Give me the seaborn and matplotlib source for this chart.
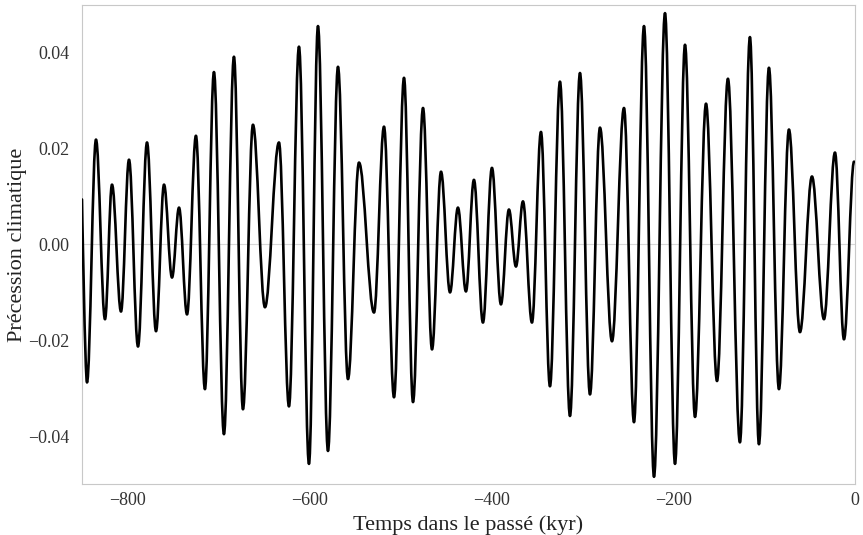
import seaborn as sns
import matplotlib.pyplot as plt
from matplotlib.path import Path
from matplotlib.patches import PathPatch
from matplotlib.ticker import FuncFormatter

# extremums de la courbe (kyr, précession)
temps = [-850.0, -844.5, -834.6, -824.7, -817.0, -807.1, -798.3, -788.4, -778.5, -768.6,
         -759.8, -751.0, -743.3, -734.5, -724.7, -714.8, -704.9, -693.9, -682.9, -673.0,
         -662.0, -648.8, -633.4, -622.4, -611.4, -600.4, -590.5, -579.5, -568.5, -557.5,
         -545.4, -528.9, -517.9, -506.9, -495.9, -486.0, -475.0, -465.1, -455.2, -445.3,
         -436.6, -427.8, -419.0, -409.1, -399.2, -389.3, -380.5, -372.8, -365.1, -355.2,
         -345.3, -335.4, -324.4, -313.4, -302.4, -291.4, -280.4, -267.2, -254.0, -243.0,
         -232.0, -221.0, -208.9, -197.9, -186.9, -175.9, -163.8, -151.7, -139.7, -126.5,
         -115.5, -105.6, -94.6, -83.6, -72.6, -60.5, -47.3, -34.1, -22.0, -12.1, -1.0]
precession = [0.0094, -0.0288, 0.0219, -0.0156, 0.0125, -0.0140, 0.0177, -0.0213, 0.0213, -0.0181,
              0.0125, -0.0069, 0.0077, -0.0146, 0.0227, -0.0302, 0.0360, -0.0396, 0.0392, -0.0344,
              0.0250, -0.0131, 0.0213, -0.0338, 0.0413, -0.0458, 0.0456, -0.0431, 0.0371, -0.0281,
              0.0171, -0.0142, 0.0246, -0.0319, 0.0348, -0.0329, 0.0285, -0.0219, 0.0152, -0.0100,
              0.0077, -0.0098, 0.0135, -0.0163, 0.0160, -0.0125, 0.0073, -0.0046, 0.0090, -0.0163,
              0.0235, -0.0296, 0.0340, -0.0358, 0.0358, -0.0313, 0.0244, -0.0202, 0.0285, -0.0371,
              0.0456, -0.0485, 0.0483, -0.0458, 0.0417, -0.0360, 0.0294, -0.0285, 0.0346, -0.0413,
              0.0433, -0.0417, 0.0369, -0.0302, 0.0240, -0.0183, 0.0142, -0.0156, 0.0192, -0.0198,
              0.0173]
x_ticks = [-800, -600, -400, -200, 0]
y_ticks = [-0.04, -0.02, 0.00, 0.02, 0.04]

sns.set_theme(style="white")
plt.rcParams['font.family'] = ['Liberation Serif', 'DejaVu Serif']

fig = plt.figure(figsize=(8.63, 5.35), dpi=100)
ax = fig.add_axes([0.095, 0.0953, 0.8957, 0.8954])

# courbe lisse entre les extremums (tangente horizontale aux extremums)
k = 0.3634
verts = [(temps[0], precession[0])]
codes = [Path.MOVETO]
for i in range(1, len(temps)):
    t0, v0 = temps[i - 1], precession[i - 1]
    t1, v1 = temps[i], precession[i]
    dt = t1 - t0
    c1 = (t0, v0) if i == 1 else (t0 + k * dt, v0)
    verts += [c1, (t1 - k * dt, v1), (t1, v1)]
    codes += [Path.CURVE4] * 3
ax.add_patch(PathPatch(Path(verts, codes), fill=False, lw=1.9, edgecolor='black',
                       capstyle='round', joinstyle='round', zorder=3))

ax.axhline(0, color='#d8d8d8', lw=0.8, zorder=1)
ax.set_xlim(-850, 0)
ax.set_ylim(-0.05, 0.05)
ax.set_xticks(x_ticks)
ax.set_yticks(y_ticks)

fmt_minus = lambda s: s.replace('-', '\u2212')
ax.xaxis.set_major_formatter(FuncFormatter(lambda v, p: fmt_minus(f"{v:.0f}")))
ax.yaxis.set_major_formatter(FuncFormatter(
    lambda v, p: "0.00" if abs(v) < 1e-9 else fmt_minus(f"{v:.2f}")))

for s in ax.spines.values():
    s.set_color('#c8c8c8')
    s.set_linewidth(0.8)
ax.tick_params(axis='both', direction='in', length=3, color='#c8c8c8',
               labelsize=13, labelcolor='#333333', pad=6)
ax.tick_params(axis='y', pad=9)

ax.set_xlabel('Temps dans le passé (kyr)', fontsize=16, color='#222222', labelpad=4)
ax.set_ylabel('Précession climatique', fontsize=16, color='#222222', labelpad=1)

fig.savefig('out.png', dpi=100)
